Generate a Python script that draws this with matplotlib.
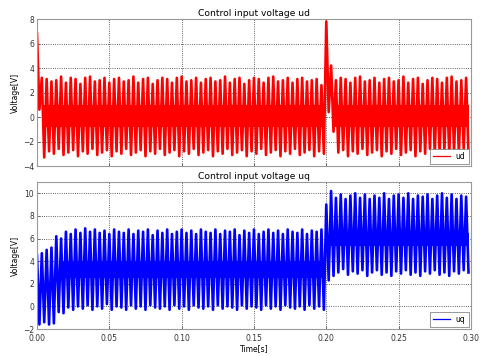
import matplotlib
matplotlib.use("Agg")
import matplotlib.pyplot as plt
import numpy as np

# one lobe of the oscillation (~300 Hz)
lobe_period = 0.2 / 60

# ud: upper and lower turning point of every lobe
ud_peaks = [6.8, 3.2, 3.1, 2.9, 3.0, 3.3, 2.8, 3.2, 3.1, 2.7,
            3.2, 3.3, 2.9, 3.0, 3.2, 2.8, 3.1, 3.2, 2.9, 3.0,
            3.3, 2.8, 3.1, 3.2, 2.7, 3.0, 3.2, 3.1, 2.8, 3.2,
            3.3, 2.9, 3.0, 3.2, 2.8, 3.1, 3.2, 2.9, 3.0, 3.3,
            2.8, 3.1, 3.2, 2.7, 3.0, 3.2, 3.1, 2.8, 3.2, 3.3,
            2.9, 3.0, 3.2, 2.8, 3.1, 3.2, 2.9, 3.0, 3.1, 2.6,
            7.8, 4.2, 3.0, 3.2, 3.1, 2.8, 3.2, 3.3, 2.9, 3.0,
            3.2, 2.8, 3.1, 3.2, 2.9, 3.0, 3.3, 2.8, 3.1, 3.2,
            2.7, 3.0, 3.2, 3.1, 2.8, 3.2, 3.3, 2.9, 3.0, 3.2]
ud_troughs = [0.6, -3.3, -2.8, -3.0, -2.6, -3.1, -2.9, -2.7, -3.2, -2.8,
              -3.0, -2.6, -3.1, -2.9, -2.7, -3.2, -2.8, -3.0, -2.6, -3.1,
              -2.9, -2.7, -3.2, -2.8, -3.0, -2.6, -3.1, -2.9, -2.7, -3.2,
              -2.8, -3.0, -2.6, -3.1, -2.9, -2.7, -3.2, -2.8, -3.0, -2.6,
              -3.1, -2.9, -2.7, -3.2, -2.8, -3.0, -2.6, -3.1, -2.9, -2.7,
              -3.2, -2.8, -3.0, -2.6, -3.1, -2.9, -2.7, -3.2, -2.8, -3.0,
              0.4, -1.2, -2.9, -2.7, -3.2, -2.8, -3.0, -2.6, -3.1, -2.9,
              -2.7, -3.2, -2.8, -3.0, -2.6, -3.1, -2.9, -2.7, -3.2, -2.8,
              -3.0, -2.6, -3.1, -2.9, -2.7, -3.2, -2.8, -3.0, -2.6, -3.1]
# solid middle band filled by the fast ripple: (t_start, t_end, low, high)
ud_core = [(0.004, 0.1985, -0.8, 1.0), (0.205, 0.2985, -0.8, 1.0)]

# uq
uq_peaks = [4.5, 4.7, 5.0, 5.2, 6.2, 6.0, 6.6, 6.4, 6.8, 6.5,
            6.9, 6.6, 6.8, 6.5, 6.7, 6.4, 6.8, 6.6, 6.5, 6.8,
            6.4, 6.7, 6.6, 6.8, 6.3, 6.7, 6.5, 6.8, 6.4, 6.6,
            6.8, 6.5, 6.7, 6.4, 6.8, 6.6, 6.5, 6.8, 6.4, 6.7,
            6.6, 6.8, 6.3, 6.7, 6.5, 6.8, 6.4, 6.6, 6.8, 6.5,
            6.7, 6.4, 6.8, 6.6, 6.5, 6.8, 6.4, 6.7, 6.6, 6.8,
            9.0, 10.2, 9.6, 9.9, 9.5, 9.8, 10.0, 9.6, 9.9, 9.5,
            9.8, 9.6, 10.0, 9.5, 9.8, 9.9, 9.6, 10.0, 9.5, 9.8,
            9.7, 9.9, 9.5, 9.8, 10.0, 9.6, 9.9, 9.5, 9.8, 9.7]
uq_troughs = [-1.6, -1.4, -1.6, -1.5, -0.5, -0.6, -0.1, -0.3, 0.0, -0.2,
              0.1, -0.3, 0.0, -0.2, 0.2, -0.3, 0.0, -0.1, -0.3, 0.1,
              -0.2, 0.0, -0.3, 0.1, -0.1, -0.2, 0.0, -0.3, 0.1, -0.2,
              0.0, -0.3, 0.1, -0.1, -0.2, 0.0, -0.3, 0.1, -0.2, 0.0,
              -0.1, -0.3, 0.1, -0.2, 0.0, -0.1, -0.3, 0.1, -0.2, 0.0,
              -0.3, 0.1, -0.1, -0.2, 0.0, -0.3, 0.1, -0.2, 0.0, -0.3,
              2.3, 2.7, 3.0, 3.3, 2.8, 3.1, 2.9, 3.2, 2.7, 3.0,
              3.2, 2.8, 3.0, 2.7, 3.1, 2.9, 3.2, 2.8, 3.0, 2.7,
              3.1, 2.9, 3.2, 2.8, 3.0, 2.7, 3.1, 2.9, 3.2, 3.0]
uq_core = [(0.016, 0.1985, 2.5, 4.0), (0.2035, 0.2985, 5.3, 6.5)]


def zigzag(peaks, troughs):
    """Put peaks at the start of each lobe and troughs half a lobe later."""
    n = len(peaks)
    t = np.empty(2 * n)
    v = np.empty(2 * n)
    t[0::2] = np.arange(n) * lobe_period
    t[1::2] = (np.arange(n) + 0.5) * lobe_period
    v[0::2] = peaks
    v[1::2] = troughs
    return t, v


plt.rcParams["font.family"] = "DejaVu Sans"
plt.rcParams["font.size"] = 5.5

fig = plt.figure(figsize=(4.83, 3.56), dpi=100)
ax1 = fig.add_axes([0.0766, 0.5337, 0.8984, 0.4129])
ax2 = fig.add_axes([0.0766, 0.0758, 0.8984, 0.4130])

t_ud, v_ud = zigzag(ud_peaks, ud_troughs)
t_uq, v_uq = zigzag(uq_peaks, uq_troughs)

ax1.plot(t_ud, v_ud, color="#ff0000", lw=1.9, label="ud")
ax2.plot(t_uq, v_uq, color="#0000ff", lw=1.9, label="uq")
for t0, t1, lo, hi in ud_core:
    ax1.fill_between([t0, t1], lo, hi, color="#ff0000", lw=0)
for t0, t1, lo, hi in uq_core:
    ax2.fill_between([t0, t1], lo, hi, color="#0000ff", lw=0)

ax1.set_ylim(-4, 8)
ax1.set_yticks([-4, -2, 0, 2, 4, 6, 8])
ax2.set_ylim(-2, 11)
ax2.set_yticks([-2, 0, 2, 4, 6, 8, 10])

for ax in (ax1, ax2):
    ax.set_xlim(0, 0.3)
    ax.set_xticks([0.0, 0.05, 0.10, 0.15, 0.20, 0.25, 0.30])
    ax.grid(True, linestyle=":", color="#333333", linewidth=0.6)
    ax.set_ylabel("Voltage[V]", labelpad=2)
    ax.tick_params(direction="in", length=2, width=0.5, pad=2, colors="#444444",
                   labelcolor="#333333")
    ax.tick_params(axis="x", pad=3.5)
    for s in ax.spines.values():
        s.set_color("#999999")
        s.set_linewidth(0.8)
    leg = ax.legend(loc="lower right", fancybox=False, framealpha=1,
                    edgecolor="#888888", handlelength=2.2, borderpad=0.4,
                    borderaxespad=0.3)
    leg.get_frame().set_linewidth(0.6)
    for h in leg.get_lines():
        h.set_linewidth(0.9)

ax1.set_xticklabels([])
ax2.set_xticklabels(["0.00", "0.05", "0.10", "0.15", "0.20", "0.25", "0.30"])
ax1.set_title("Control input voltage ud", pad=2)
ax2.set_title("Control input voltage uq", pad=2)
ax2.set_xlabel("Time[s]", labelpad=1)

fig.savefig("out.png", dpi=100)
